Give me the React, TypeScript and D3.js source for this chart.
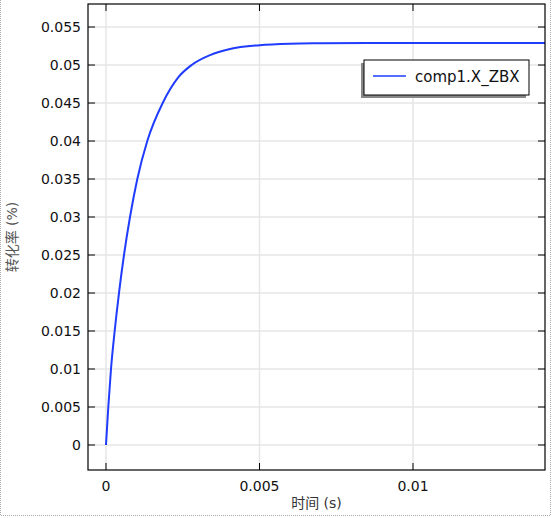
import * as d3 from 'd3';
import { useEffect, useRef } from 'react';

// time (s) vs conversion
const timeValues = [0, 0.000075, 0.000163, 0.000283, 0.000423, 0.000586, 0.000782, 0.00102, 0.001345, 0.001847, 0.00236, 0.00279, 0.00339, 0.00404, 0.005, 0.006, 0.007, 0.0085, 0.0143];
const rateValues = [0, 0.005, 0.01, 0.015, 0.02, 0.025, 0.03, 0.035, 0.04, 0.045, 0.0484, 0.05, 0.0513, 0.0521, 0.0526, 0.0528, 0.05286, 0.0529, 0.0529];
const yTicks = [0, 0.005, 0.01, 0.015, 0.02, 0.025, 0.03, 0.035, 0.04, 0.045, 0.05, 0.055];
const xTicks = [0, 0.005, 0.01];
const seriesName = 'comp1.X_ZBX';

const W = 553, H = 518;
const left = 88, right = 545, top = 4, bottom = 470;

const App = () => {
  const ref = useRef<SVGSVGElement>(null);

  useEffect(() => {
    const svg = d3.select(ref.current);
    svg.selectAll('*').remove();

    const x = d3.scaleLinear().domain([-0.000586, 0.0143]).range([left, right]);
    const y = d3.scaleLinear().domain([-0.00329, 0.05803]).range([bottom, top]);
    const fmt = d3.format('.3~f');
    const font = '"DejaVu Sans", sans-serif';

    // outer dotted frame
    svg.append('rect')
      .attr('x', 0.5).attr('y', -2).attr('width', 550).attr('height', 517.5)
      .attr('fill', 'none').attr('stroke', '#aaa').attr('stroke-dasharray', '1,1');

    const g = svg.append('g');

    // grid
    g.selectAll('.gy').data(yTicks).enter().append('line')
      .attr('x1', left).attr('x2', right)
      .attr('y1', (d) => y(d)).attr('y2', (d) => y(d))
      .attr('stroke', '#e6e6e6').attr('stroke-width', 1.5);
    g.selectAll('.gx').data(xTicks).enter().append('line')
      .attr('y1', top).attr('y2', bottom)
      .attr('x1', (d) => x(d)).attr('x2', (d) => x(d))
      .attr('stroke', '#e6e6e6').attr('stroke-width', 1.5);

    // curve
    const line = d3.line<number>()
      .x((d, i) => x(timeValues[i]))
      .y((d) => y(d))
      .curve(d3.curveMonotoneX);
    g.append('path')
      .datum(rateValues)
      .attr('d', line)
      .attr('fill', 'none')
      .attr('stroke', '#1f3cff')
      .attr('stroke-width', 2);

    // frame
    g.append('rect')
      .attr('x', left).attr('y', top).attr('width', right - left).attr('height', bottom - top)
      .attr('fill', 'none').attr('stroke', '#000').attr('stroke-width', 1.2);

    // inward ticks
    const tl = 7;
    yTicks.forEach((d) => {
      g.append('line').attr('x1', left).attr('x2', left + tl).attr('y1', y(d)).attr('y2', y(d)).attr('stroke', '#000');
      g.append('line').attr('x1', right).attr('x2', right - tl).attr('y1', y(d)).attr('y2', y(d)).attr('stroke', '#000');
    });
    xTicks.forEach((d) => {
      g.append('line').attr('y1', bottom).attr('y2', bottom - tl).attr('x1', x(d)).attr('x2', x(d)).attr('stroke', '#000');
      g.append('line').attr('y1', top).attr('y2', top + tl).attr('x1', x(d)).attr('x2', x(d)).attr('stroke', '#000');
    });

    // tick labels
    g.selectAll('.ly').data(yTicks).enter().append('text')
      .attr('x', left - 7).attr('y', (d) => y(d) + 5)
      .attr('text-anchor', 'end')
      .style('font-family', font).style('font-size', '14px').attr('fill', '#111')
      .text((d) => fmt(d));
    g.selectAll('.lx').data(xTicks).enter().append('text')
      .attr('x', (d) => x(d)).attr('y', bottom + 21)
      .attr('text-anchor', 'middle')
      .style('font-family', font).style('font-size', '14px').attr('fill', '#111')
      .text((d) => fmt(d));

    // axis titles
    g.append('text')
      .attr('x', (left + right) / 2).attr('y', bottom + 38)
      .attr('text-anchor', 'middle')
      .style('font-family', '"DejaVu Sans", "Noto Sans CJK SC", sans-serif').style('font-size', '14px').attr('fill', '#333')
      .text('时间 (s)');
    g.append('text')
      .attr('transform', 'translate(17,' + (top + bottom) / 2 + ') rotate(-90)')
      .attr('text-anchor', 'middle')
      .style('font-family', '"DejaVu Sans", "Noto Sans CJK SC", sans-serif').style('font-size', '14px').attr('fill', '#555')
      .text('转化率 (%)');

    // legend
    const lg = g.append('g').attr('transform', 'translate(364,60)');
    lg.append('rect').attr('x', -3).attr('y', 3).attr('width', 165).attr('height', 35).attr('fill', '#888');
    lg.append('rect').attr('x', 0).attr('y', 0).attr('width', 165).attr('height', 35)
      .attr('fill', '#fff').attr('stroke', '#000').attr('stroke-width', 1);
    lg.append('line').attr('x1', 9).attr('x2', 42).attr('y1', 16).attr('y2', 16)
      .attr('stroke', '#1f3cff').attr('stroke-width', 1.5);
    lg.append('text').attr('x', 51).attr('y', 22)
      .style('font-family', font).style('font-size', '15px').attr('fill', '#111')
      .text(seriesName);
  }, []);

  return (
    <svg ref={ref} width={W} height={H} style={{ position: 'absolute', left: 0, top: 0, background: '#fff' }} />
  );
};

export default App;
